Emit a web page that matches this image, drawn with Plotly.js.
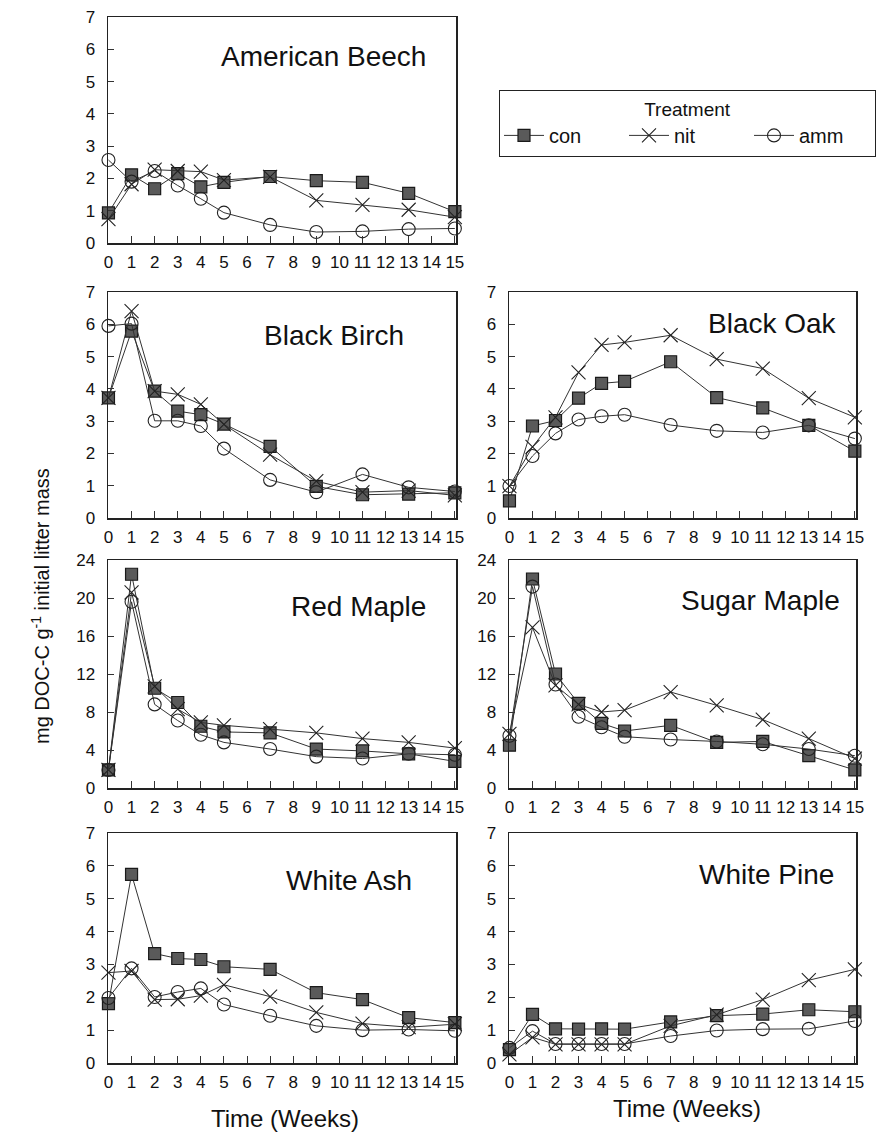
<!DOCTYPE html>
<html>
<head>
<meta charset="utf-8">
<script src="https://cdn.plot.ly/plotly-3.0.1.min.js"></script>
<style>html,body{margin:0;padding:0;background:#fff;}#chart{width:881px;height:1136px;}</style>
</head>
<body>
<div id="chart"></div>
<script>
// ---- Data ----
const weeks = [0, 1, 2, 3, 4, 5, 7, 9, 11, 13, 15];
const tickWeeks = [0,1,2,3,4,5,6,7,8,9,10,11,12,13,14,15];
const treatments = ['con', 'nit', 'amm'];
const species = ['American Beech', 'Black Birch', 'Black Oak', 'Red Maple', 'Sugar Maple', 'White Ash', 'White Pine'];

const beechCon = [0.93, 2.11, 1.68, 2.15, 1.74, 1.88, 2.06, 1.93, 1.88, 1.54, 0.97];
const beechNit = [0.74, 1.82, 2.27, 2.23, 2.21, 1.95, 2.05, 1.32, 1.18, 1.03, 0.80];
const beechAmm = [2.57, 1.90, 2.23, 1.78, 1.37, 0.94, 0.56, 0.34, 0.36, 0.43, 0.45];

const birchCon = [3.72, 5.79, 3.93, 3.31, 3.20, 2.91, 2.22, 0.98, 0.72, 0.74, 0.78];
const birchNit = [3.72, 6.41, 3.93, 3.83, 3.52, 2.90, 1.96, 1.14, 0.80, 0.85, 0.70];
const birchAmm = [5.95, 6.02, 3.01, 3.01, 2.85, 2.15, 1.18, 0.80, 1.35, 0.95, 0.82];

const oakCon = [0.53, 2.85, 3.02, 3.71, 4.17, 4.23, 4.84, 3.73, 3.41, 2.87, 2.07];
const oakNit = [0.99, 2.20, 3.12, 4.51, 5.36, 5.44, 5.66, 4.92, 4.63, 3.71, 3.12];
const oakAmm = [0.99, 1.92, 2.62, 3.05, 3.15, 3.20, 2.88, 2.70, 2.65, 2.87, 2.46];

const redCon = [1.9, 22.5, 10.5, 9.0, 6.5, 5.9, 5.8, 4.1, 3.9, 3.6, 2.8];
const redNit = [1.9, 20.6, 10.7, 8.3, 6.9, 6.6, 6.2, 5.8, 5.2, 4.8, 4.2];
const redAmm = [1.9, 19.6, 8.8, 7.1, 5.6, 4.8, 4.1, 3.3, 3.1, 3.6, 3.5];

const sugarCon = [4.5, 22.0, 12.0, 8.9, 6.8, 6.0, 6.6, 4.8, 4.9, 3.4, 1.9];
const sugarNit = [5.7, 16.9, 10.8, 8.8, 8.0, 8.2, 10.1, 8.7, 7.2, 5.2, 3.1];
const sugarAmm = [5.5, 21.2, 10.9, 7.5, 6.4, 5.4, 5.1, 4.9, 4.6, 4.1, 3.4];

const ashCon = [1.81, 5.74, 3.33, 3.18, 3.15, 2.93, 2.85, 2.14, 1.93, 1.38, 1.23];
const ashNit = [2.75, 2.80, 1.93, 1.94, 2.05, 2.38, 2.02, 1.54, 1.20, 1.09, 1.18];
const ashAmm = [1.98, 2.88, 2.01, 2.16, 2.27, 1.78, 1.44, 1.13, 1.00, 1.02, 0.98];

const pineCon = [0.41, 1.48, 1.04, 1.03, 1.04, 1.03, 1.25, 1.44, 1.49, 1.62, 1.56];
const pineNit = [0.26, 0.78, 0.57, 0.57, 0.57, 0.57, 1.13, 1.47, 1.93, 2.52, 2.85];
const pineAmm = [0.46, 0.97, 0.58, 0.58, 0.58, 0.58, 0.82, 0.99, 1.03, 1.04, 1.28];

const yTicks7 = [0,1,2,3,4,5,6,7];
const yTicks24 = [0,4,8,12,16,20,24];

// ---- Layout helpers ----
const W = 881, H = 1136;
const px = v => v / W;
const py = v => 1 - v / H;

const colX = [[108, 456], [509, 856]];
const rowY = [[17, 243], [292, 518], [560, 788], [833, 1063]];

const panels = [
  {series: [beechCon, beechNit, beechAmm], col: 0, row: 0, yt: yTicks7, label: [323, 56]},
  {series: [birchCon, birchNit, birchAmm], col: 0, row: 1, yt: yTicks7, label: [334, 335]},
  {series: [oakCon, oakNit, oakAmm], col: 1, row: 1, yt: yTicks7, label: [772, 323]},
  {series: [redCon, redNit, redAmm], col: 0, row: 2, yt: yTicks24, label: [358, 606]},
  {series: [sugarCon, sugarNit, sugarAmm], col: 1, row: 2, yt: yTicks24, label: [760, 600]},
  {series: [ashCon, ashNit, ashAmm], col: 0, row: 3, yt: yTicks7, label: [349, 880]},
  {series: [pineCon, pineNit, pineAmm], col: 1, row: 3, yt: yTicks7, label: [766, 874]}
];

const markerStyles = {
  con: {symbol: 'square', size: 12, color: '#5a5a5a', line: {color: '#1a1a1a', width: 1.2}},
  nit: {symbol: 'x-thin-open', size: 14, color: '#222', line: {color: '#222', width: 1.1}},
  amm: {symbol: 'circle-open', size: 13, color: '#222', line: {color: '#222', width: 1.1}}
};

const FONT = 'Liberation Sans, Arial, sans-serif';
const traces = [];
const layout = {
  width: W, height: H,
  margin: {l: 0, r: 0, t: 0, b: 0},
  paper_bgcolor: '#fff', plot_bgcolor: '#fff',
  font: {family: FONT, color: '#111', size: 17},
  showlegend: true,
  legend: {
    orientation: 'h',
    x: px(499), y: py(90), xanchor: 'left', yanchor: 'top',
    bgcolor: '#fff', bordercolor: '#222', borderwidth: 1.2,
    title: {text: 'Treatment', side: 'top center', font: {size: 19, family: FONT}},
    font: {size: 20, family: FONT},
    entrywidth: 70, itemwidth: 40,
    tracegroupgap: 0
  },
  annotations: []
};

panels.forEach((p, i) => {
  const n = i + 1;
  const xa = 'x' + (n === 1 ? '' : n), ya = 'y' + (n === 1 ? '' : n);
  const xk = 'xaxis' + (n === 1 ? '' : n), yk = 'yaxis' + (n === 1 ? '' : n);
  const cx = colX[p.col], ry = rowY[p.row];
  const ymax = p.yt[p.yt.length - 1];
  layout[xk] = {
    domain: [px(cx[0]), px(cx[1])], anchor: ya,
    range: [-0.02, 15.05],
    tickmode: 'array', tickvals: tickWeeks, ticktext: tickWeeks.map(String),
    ticks: 'inside', ticklen: 7, tickwidth: 1, tickcolor: '#333',
    showline: true, mirror: true, linecolor: '#222', linewidth: 1.5,
    showgrid: false, zeroline: false, tickangle: 0,
    tickfont: {size: 17, family: FONT, color: '#111'},
    ticklabelstandoff: 3, fixedrange: true
  };
  layout[yk] = {
    domain: [py(ry[1]), py(ry[0])], anchor: xa,
    range: [0, ymax],
    tickmode: 'array', tickvals: p.yt, ticktext: p.yt.map(String),
    ticks: 'inside', ticklen: 6, tickwidth: 1, tickcolor: '#333',
    showline: true, mirror: true, linecolor: '#222', linewidth: 1.5,
    showgrid: false, zeroline: false,
    tickfont: {size: 17, family: FONT, color: '#111'},
    ticklabelstandoff: 8, fixedrange: true
  };
  treatments.forEach((t, k) => {
    traces.push({
      type: 'scatter', mode: 'lines+markers',
      x: weeks, y: p.series[k],
      xaxis: xa, yaxis: ya,
      name: t, legendgroup: t, showlegend: i === 0,
      line: {color: '#333', width: 1},
      marker: markerStyles[t],
      cliponaxis: false
    });
  });
  layout.annotations.push({
    text: species[i], xref: 'paper', yref: 'paper',
    x: px(p.label[0]), y: py(p.label[1]), xanchor: 'center', yanchor: 'middle',
    showarrow: false, font: {size: 28, family: FONT, color: '#111'}
  });
});

layout.annotations.push({
  text: 'mg DOC-C g<sup>-1</sup> initial litter mass', xref: 'paper', yref: 'paper',
  x: px(40), y: py(606), xanchor: 'center', yanchor: 'middle', textangle: -90,
  showarrow: false, font: {size: 20, family: FONT, color: '#111'}
});
layout.annotations.push({
  text: 'Time (Weeks)', xref: 'paper', yref: 'paper',
  x: px(285), y: py(1118), xanchor: 'center', yanchor: 'middle',
  showarrow: false, font: {size: 24, family: FONT, color: '#111'}
});
layout.annotations.push({
  text: 'Time (Weeks)', xref: 'paper', yref: 'paper',
  x: px(687), y: py(1108), xanchor: 'center', yanchor: 'middle',
  showarrow: false, font: {size: 24, family: FONT, color: '#111'}
});

Plotly.newPlot('chart', traces, layout, {displayModeBar: false, staticPlot: true});
</script>
</body>
</html>
